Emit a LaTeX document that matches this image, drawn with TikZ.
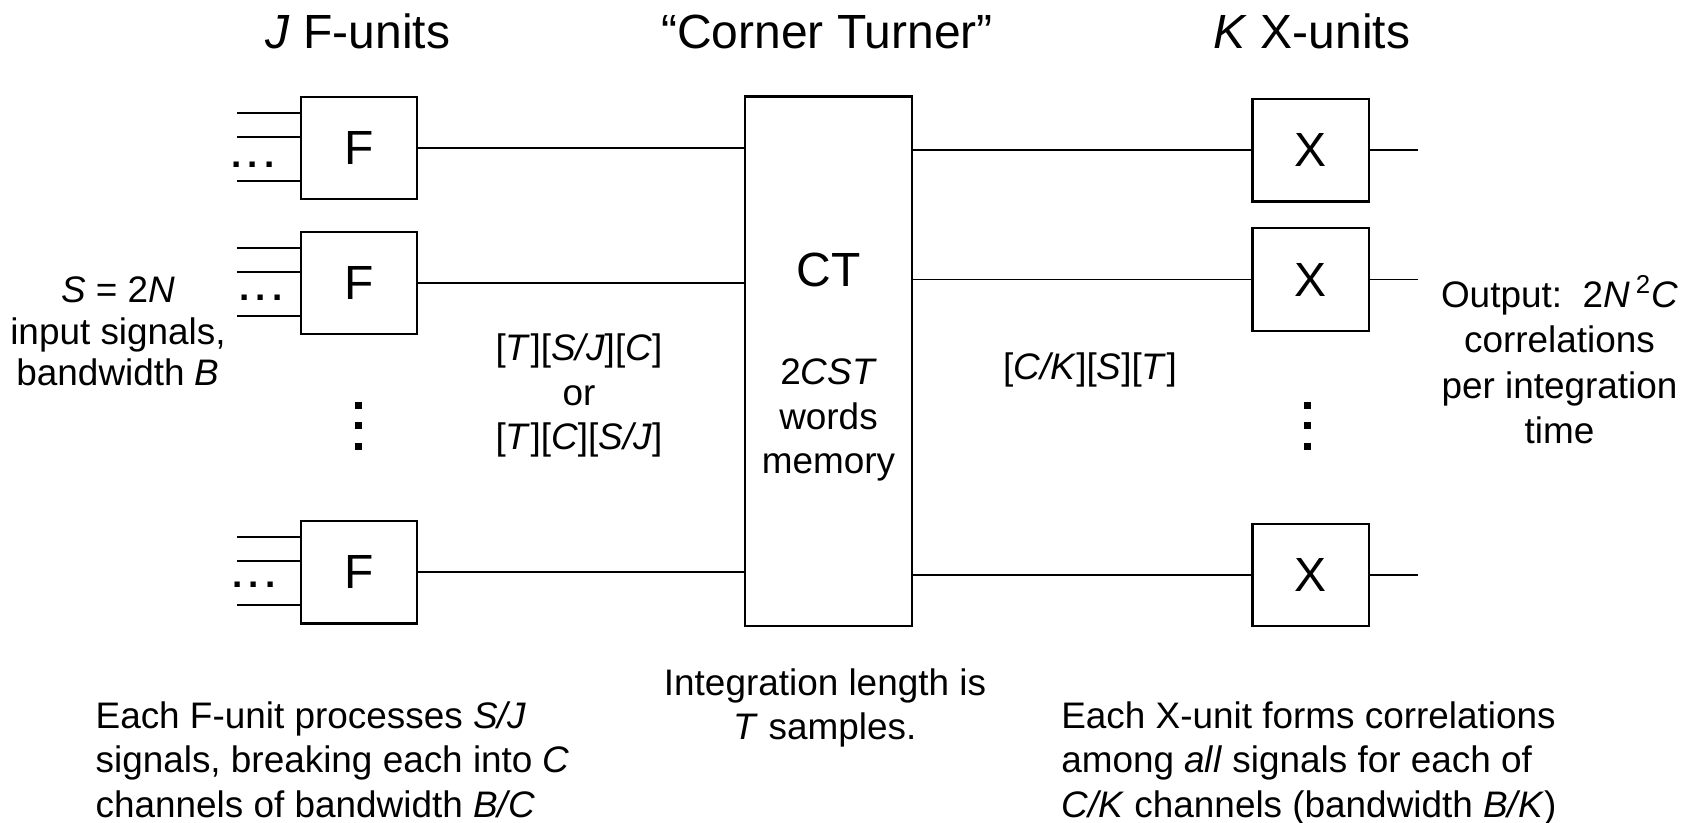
\documentclass[tikz,border=0pt]{standalone}
\usepackage{fontspec}
\setmainfont{Liberation Sans}

\begin{document}
\begin{tikzpicture}[every node/.style={font=\fontsize{21}{25.3}\selectfont, inner sep=0pt},
	big/.style={font=\fontsize{27.3}{32}\selectfont},
	tight/.style={font=\fontsize{21}{23.6}\selectfont},
	unitbox/.style={draw, line width=1.3pt, minimum width=2.33cm, minimum height=2.05cm, big},
	wire/.style={line width=1.1pt}]
	\useasboundingbox (0,0) rectangle (33.96,-16.44);
	\node[big, anchor=base] (ftitle) at (7.16,-0.97) {\textit{J} F-units};
	\node[big, anchor=base] (cttitle) at (16.54,-0.97) {“Corner Turner”};
	\node[big, anchor=base] (xtitle) at (26.24,-0.97) {\textit{K} X-units};
	\node[unitbox] (f1) at (7.18,-2.958) {F};
	\node[unitbox] (f2) at (7.18,-5.66) {F};
	\node[unitbox] (f3) at (7.18,-11.444) {F};
	\node[draw, line width=1.3pt, minimum width=3.352cm, minimum height=10.59cm] (ct) at (16.57,-7.225) {};
	\node[big, anchor=base] (ctname) at (16.57,-5.734) {CT};
	\node[align=center, anchor=north] (ctmem) at (16.57,-7.17) {2\textit{CST}\\words\\memory};
	\node[unitbox] (x1) at (26.214,-3.006) {X};
	\node[unitbox] (x2) at (26.214,-5.59) {X};
	\node[unitbox] (x3) at (26.214,-11.5) {X};
	\foreach \f/\dx/\dy in {f1/-0.93/-0.34, f2/-0.77/-0.29, f3/-0.91/-0.26} {
		\draw[wire] (\f.east) -- (\f.east -| ct.west);
		\foreach \ly in {0.7,0.22,-0.66}
			\draw[wire] ([yshift=\ly cm]\f.west) -- ++(-1.25,0);
		\node at ([xshift=\dx cm, yshift=\dy cm]\f.west) {\textbf{.\kern.16em.\kern.16em.}};
	}
	\foreach \x in {x1,x2,x3} {
		\draw[wire] (\x.west -| ct.east) -- (\x.west);
		\draw[wire] (\x.east) -- ++(0.95,0);
	}
	\foreach \x in {7.16,26.14}
		\foreach \y in {-8.1,-8.5,-8.92}
			\fill (\x-0.07,\y-0.07) rectangle ++(0.14,0.14);
	\node[tight, align=center, anchor=north] (insig) at (2.36,-5.534) {\textit{S} = 2\textit{N}\\input signals,\\bandwidth \textit{B}};
	\node[align=center, anchor=north] (fmt) at (11.58,-6.67) {[\textit{T}][\textit{S/J}][\textit{C}]\\or\\{}[\textit{T}][\textit{C}][\textit{S/J}]};
	\node[anchor=base] (xfmt) at (21.8,-7.58) {[\textit{C/K}][\textit{S}][\textit{T}]};
	\node[align=center, anchor=north, font=\fontsize{21}{25.9}\selectfont] (outp) at (31.19,-5.51) {Output:\ \ 2\textit{N}\,\textsuperscript{2}\textit{C}\\correlations\\per integration\\time};
	\node[align=center, anchor=north] (intlen) at (16.5,-13.36) {Integration length is\\\textit{T} samples.};
	\node[align=left, anchor=north west] (fnote) at (1.906,-14.02) {Each F-unit processes \textit{S/J}\\signals, breaking each into \textit{C}\\channels of bandwidth \textit{B/C}};
	\node[align=left, anchor=north west] (xnote) at (21.22,-14.02) {Each X-unit forms correlations\\among \textit{all} signals for each of\\\textit{C/K} channels (bandwidth \textit{B/K})};
\end{tikzpicture}
\end{document}
